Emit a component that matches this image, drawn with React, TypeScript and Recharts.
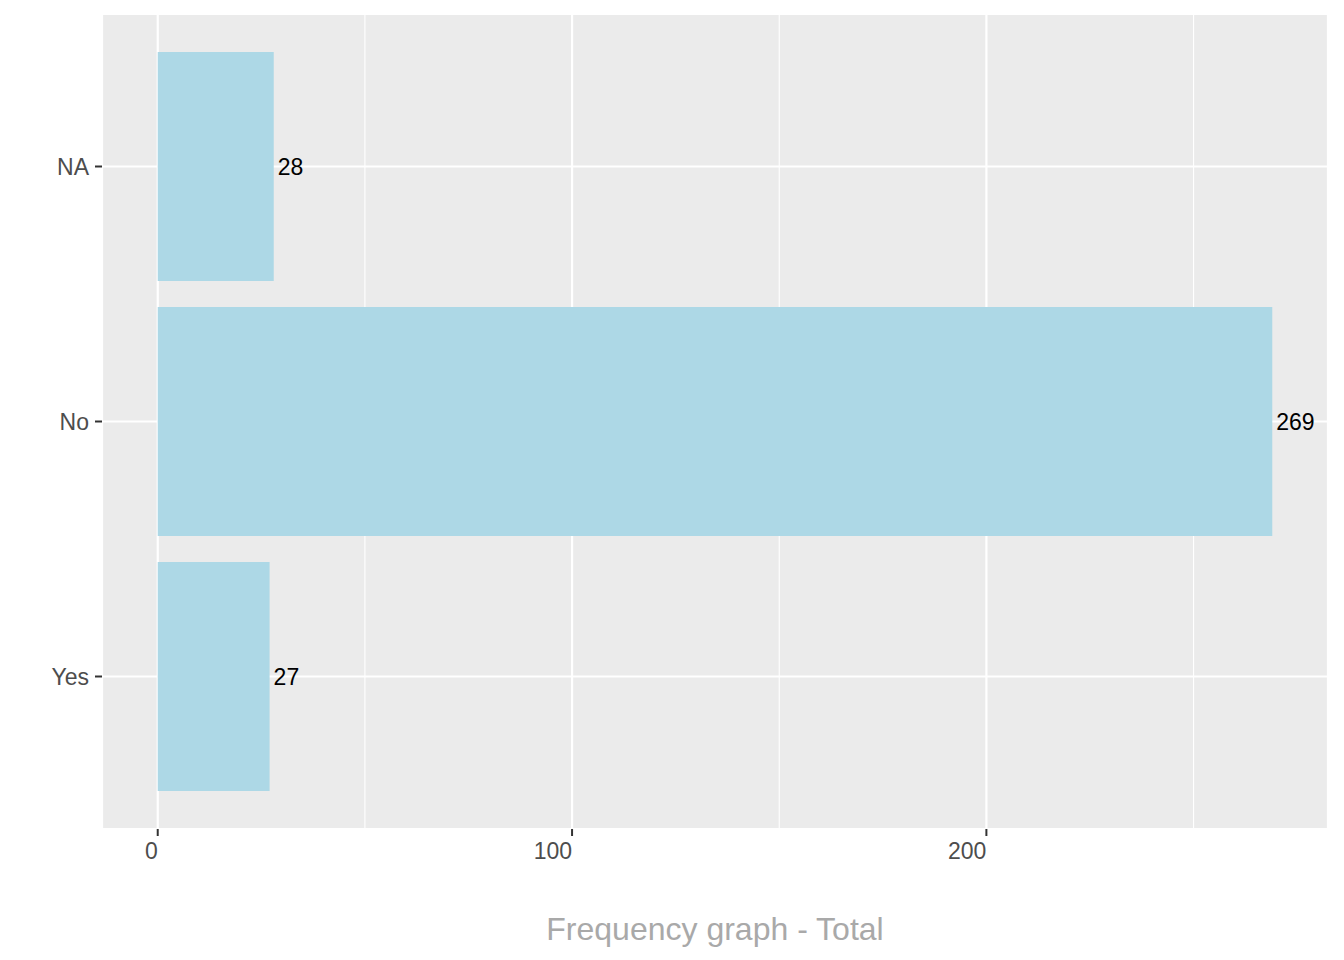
import { BarChart, Bar, XAxis, YAxis, CartesianGrid, LabelList } from 'recharts';

const categories = ['NA', 'No', 'Yes'];
const counts = [28, 269, 27];
const majorTicks = [0, 100, 200];
const minorTicks = [50, 150, 250];
const xDomain = [-13.45, 282.45];

const data = categories.map((name, i) => ({ name, count: counts[i] }));

// eslint-disable-next-line @typescript-eslint/no-explicit-any
function XTick({ x, y, payload }: any) {
  return (
    <text x={x} y={y} dy="0.71em" textAnchor="end" fill="#4D4D4D" fontSize={23}>
      {payload.value}
    </text>
  );
}

export default function App() {
  return (
    <div style={{ position: 'absolute', left: 0, top: 0, width: 1344, height: 960, background: '#ffffff' }}>
      <BarChart
        width={1344}
        height={960}
        data={data}
        layout="vertical"
        margin={{ top: 14, right: 16, left: 0, bottom: 0 }}
        style={{ fontFamily: '"Liberation Sans", Arial, sans-serif' }}
      >
        <CartesianGrid
          xAxisId="minor"
          horizontal={false}
          fill="#EBEBEB"
          stroke="#FFFFFF"
          strokeWidth={1.1}
        />
        <CartesianGrid stroke="#FFFFFF" strokeWidth={2.2} />
        <XAxis
          type="number"
          domain={xDomain}
          ticks={majorTicks}
          allowDataOverflow
          height={131}
          axisLine={false}
          tickLine={{ stroke: '#333333', strokeWidth: 2 }}
          tickSize={7}
          tickMargin={7}
          tick={<XTick />}
          label={{
            value: 'Frequency graph - Total',
            position: 'insideBottom',
            offset: 20,
            fill: '#A9A9A9',
            fontSize: 32,
          }}
        />
        <XAxis xAxisId="minor" type="number" domain={xDomain} ticks={minorTicks} allowDataOverflow hide />
        <YAxis
          type="category"
          dataKey="name"
          width={102}
          padding={{ top: 25, bottom: 25 }}
          axisLine={false}
          tickLine={{ stroke: '#333333', strokeWidth: 2 }}
          tickSize={7}
          tickMargin={6}
          tick={{ fill: '#4D4D4D', fontSize: 23 }}
        />
        <Bar dataKey="count" fill="#ADD8E6" barSize={229} isAnimationActive={false}>
          <LabelList dataKey="count" position="right" offset={4} fill="#000000" fontSize={23} />
        </Bar>
      </BarChart>
    </div>
  );
}
